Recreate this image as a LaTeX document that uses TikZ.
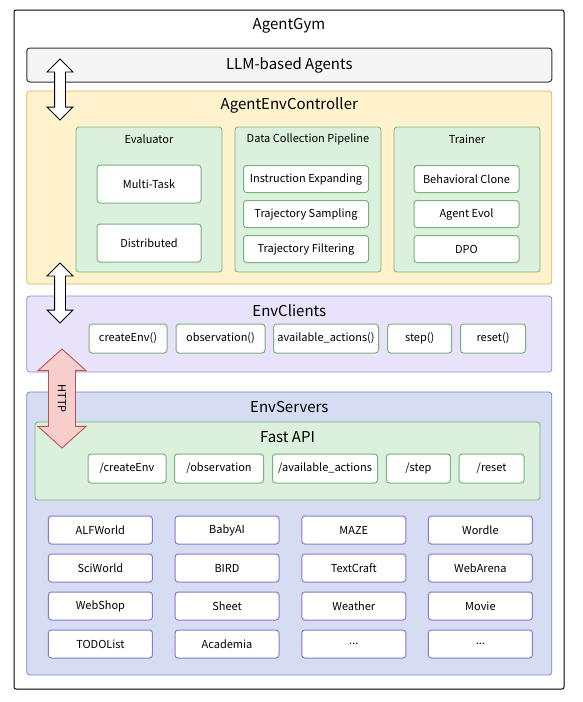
\documentclass[tikz,border=0pt]{standalone}
\usepackage{fontspec}
\setmainfont{Noto Sans CJK SC}
\usetikzlibrary{shapes.arrows}
\definecolor{llmfill}{HTML}{F5F5F5}
\definecolor{llmline}{HTML}{333333}
\definecolor{ylwfill}{HTML}{FFF2CC}
\definecolor{ylwline}{HTML}{D6B656}
\definecolor{grnfill}{HTML}{DCF0DE}
\definecolor{grnline}{HTML}{78B27C}
\definecolor{purfill}{HTML}{E8E2FA}
\definecolor{purline}{HTML}{968CD2}
\definecolor{blufill}{HTML}{D6DCF2}
\definecolor{bluline}{HTML}{7887C8}
\definecolor{envline}{HTML}{8C78C8}
\definecolor{httpfill}{HTML}{F8CECC}
\definecolor{httpline}{HTML}{B85450}

\begin{document}
\begin{tikzpicture}[x=1pt,y=-1pt,
  box/.style={draw,rounded corners=3pt,line width=0.8pt,inner sep=0pt},
  title/.style={inner sep=0pt,font=\fontsize{15}{18}\selectfont},
  small/.style={inner sep=0pt,font=\fontsize{11}{13}\selectfont},
  gitem/.style={box,small,draw=grnline,fill=white,line width=1pt},
  pitem/.style={box,small,draw=envline,fill=white,line width=1pt,minimum width=104pt,minimum height=28pt},
  updown/.style={double arrow,draw,line width=0.9pt,inner xsep=0pt,rotate=90}]
  \useasboundingbox (0,0) rectangle (583,702);

  \node [box,draw=black,fill=white,rounded corners=2pt,line width=1pt,minimum width=550pt,minimum height=679pt] (gym) at (289,349.5) {};
  \node [title] (gymT) at (289,26) {AgentGym};

  \node [box,draw=llmline,fill=llmfill,line width=1pt,minimum width=525pt,minimum height=34pt,title] (llm) at (289.3,65) {LLM-based Agents};

  \node [box,draw=ylwline,fill=ylwfill,minimum width=525pt,minimum height=193pt] (ctrl) at (289.3,187.5) {};
  \node [title] (ctrlT) at (289.3,105) {AgentEnvController};

  \node [box,draw=grnline,fill=grnfill,minimum width=146pt,minimum height=145pt] (eval) at (149,199.5) {};
  \node [small] (evalT) at (149,139) {Evaluator};
  \node [gitem,minimum width=104pt,minimum height=38pt] (multi) at (149,184) {Multi-Task};
  \node [gitem,minimum width=104pt,minimum height=38pt] (dist) at (149,243) {Distributed};

  \node [box,draw=grnline,fill=grnfill,minimum width=146pt,minimum height=145pt] (data) at (308,199.5) {};
  \node [small] (dataT) at (308,139) {Data Collection Pipeline};
  \node [gitem,minimum width=125pt,minimum height=27pt] (instr) at (306,179) {Instruction Expanding};
  \node [gitem,minimum width=125pt,minimum height=27pt] (samp) at (306,214) {Trajectory Sampling};
  \node [gitem,minimum width=125pt,minimum height=27pt] (filt) at (306,249) {Trajectory Filtering};

  \node [box,draw=grnline,fill=grnfill,minimum width=146pt,minimum height=145pt] (train) at (467,199.5) {};
  \node [small] (trainT) at (467,139) {Trainer};
  \node [gitem,minimum width=105pt,minimum height=27pt] (bc) at (466.5,179) {Behavioral Clone};
  \node [gitem,minimum width=105pt,minimum height=27pt] (evol) at (466.5,214) {Agent Evol};
  \node [gitem,minimum width=105pt,minimum height=27pt] (dpo) at (466.5,249) {DPO};

  \node [box,draw=purline,fill=purfill,minimum width=525pt,minimum height=76pt] (cli) at (289.3,334) {};
  \node [title] (cliT) at (289.3,311) {EnvClients};
  \node [gitem,minimum width=78pt,minimum height=29pt] (c1) at (128,338.5) {createEnv()};
  \node [gitem,minimum width=89pt,minimum height=29pt] (c2) at (220.5,338.5) {observation()};
  \node [gitem,minimum width=105pt,minimum height=29pt] (c3) at (326,338.5) {available\_actions()};
  \node [gitem,minimum width=64pt,minimum height=29pt] (c4) at (419.7,338.5) {step()};
  \node [gitem,minimum width=65pt,minimum height=29pt] (c5) at (493,338.5) {reset()};

  \node [box,draw=bluline,fill=blufill,minimum width=525pt,minimum height=283pt] (srv) at (289.3,533.5) {};
  \node [title] (srvT) at (289.3,407) {EnvServers};

  \node [box,draw=grnline,fill=grnfill,minimum width=505pt,minimum height=78pt] (api) at (287.5,461) {};
  \node [title] (apiT) at (287.5,437) {Fast API};
  \node [gitem,minimum width=78pt,minimum height=29pt] (s1) at (127,468.5) {/createEnv};
  \node [gitem,minimum width=89pt,minimum height=29pt] (s2) at (219,468.5) {/observation};
  \node [gitem,minimum width=105pt,minimum height=29pt] (s3) at (325,468.5) {/available\_actions};
  \node [gitem,minimum width=64pt,minimum height=29pt] (s4) at (418.4,468.5) {/step};
  \node [gitem,minimum width=65pt,minimum height=29pt] (s5) at (491.6,468.5) {/reset};

  \node [pitem] (alf) at (100.4,530) {ALFWorld};
  \node [pitem] (baby) at (227,530) {BabyAI};
  \node [pitem] (maze) at (353.8,530) {MAZE};
  \node [pitem] (word) at (480.4,530) {Wordle};
  \node [pitem] (sci) at (100.4,568) {SciWorld};
  \node [pitem] (bird) at (227,568) {BIRD};
  \node [pitem] (craft) at (353.8,568) {TextCraft};
  \node [pitem] (arena) at (480.4,568) {WebArena};
  \node [pitem] (shop) at (100.4,606) {WebShop};
  \node [pitem] (sheet) at (227,606) {Sheet};
  \node [pitem] (weath) at (353.8,606) {Weather};
  \node [pitem] (movie) at (480.4,606) {Movie};
  \node [pitem] (todo) at (100.4,644) {TODOList};
  \node [pitem] (acad) at (227,644) {Academia};
  \node [pitem] (more1) at (353.8,644) {...};
  \node [pitem] (more2) at (480.4,644) {...};

  \node [updown,fill=white,inner ysep=5pt,double arrow head extend=7.5pt,minimum height=61pt] (arrA) at (60,89.5) {};
  \node [updown,fill=white,inner ysep=5pt,double arrow head extend=7.5pt,minimum height=60pt] (arrB) at (60,293) {};
  \node [updown,rotate=180,small,draw=httpline,fill=httpfill,inner ysep=9pt,double arrow head extend=10.5pt,double arrow tip angle=96,minimum height=99pt] (http) at (62,398.5) {HTTP};
\end{tikzpicture}
\end{document}
